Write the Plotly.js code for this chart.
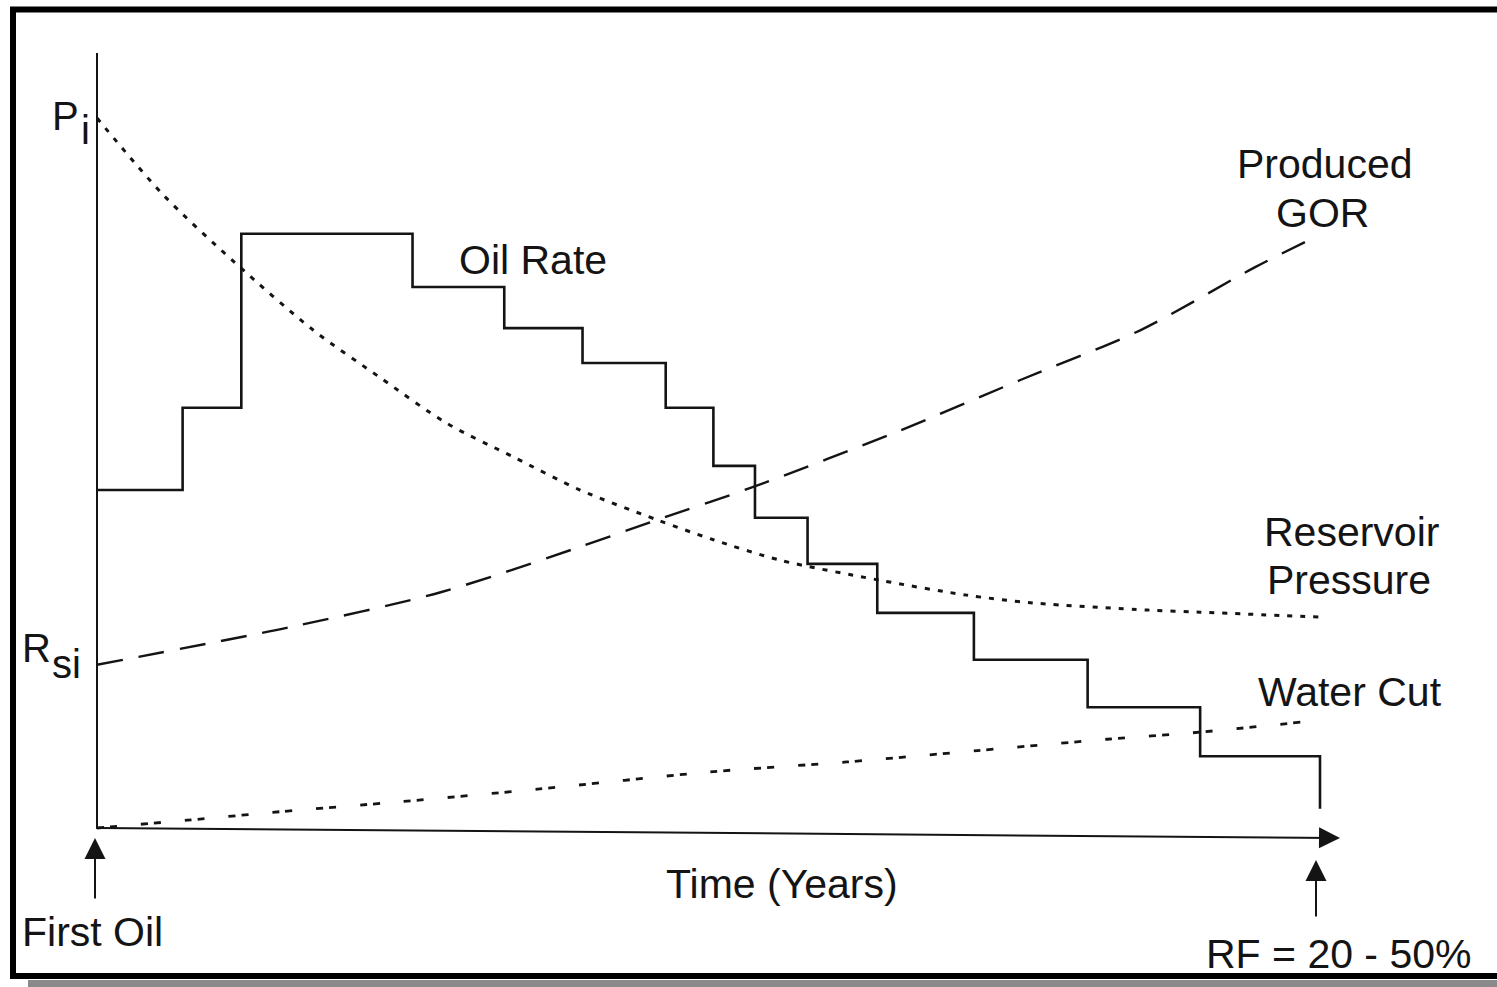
<!DOCTYPE html>
<html>
<head>
<meta charset="utf-8">
<script src="https://cdn.plot.ly/plotly-3.0.1.min.js"></script>
<style>
  html, body { margin: 0; padding: 0; background: #ffffff; }
  #chart { width: 1497px; height: 987px; }
</style>
</head>
<body>
<div id="chart"></div>
<script>
// ---- Data (time in arbitrary years 0..10, values in relative units 0..100) ----
const oilRateTime  = [0, 0.70, 1.18, 2.58, 3.33, 3.97, 4.65, 5.04, 5.38, 5.81, 6.38, 7.17, 8.10, 9.02, 10.0];
const oilRateValue = [47.6, 59.2, 83.7, 76.2, 70.4, 65.5, 59.2, 51.0, 43.7, 37.2, 30.3, 23.7, 17.0, 10.1, 2.7];

const pressureTime  = [0, 0.54, 1.13, 1.77, 2.31, 2.86, 3.40, 3.95, 4.58, 5.04, 5.59, 6.40, 7.11, 7.65, 8.59, 9.02, 10.0];
const pressureValue = [100.0, 89.2, 79.6, 70.1, 63.5, 57.0, 52.3, 47.6, 43.4, 40.6, 37.7, 34.9, 32.8, 31.7, 30.7, 30.4, 29.7];

const gorTime  = [0, 1.58, 2.81, 3.95, 4.58, 5.36, 6.54, 7.55, 8.53, 9.47, 9.98];
const gorValue = [23.0, 28.3, 33.2, 39.6, 43.4, 48.0, 55.8, 63.1, 70.1, 79.0, 83.4];

const waterCutTime  = [0, 0.74, 1.50, 2.48, 3.62, 5.01, 6.13, 7.20, 8.26, 9.02, 9.84];
const waterCutValue = [0.0, 1.1, 2.3, 3.7, 5.5, 7.9, 9.3, 10.9, 12.5, 13.5, 14.9];

const seriesLabels = ["Oil Rate", "Reservoir Pressure", "Produced GOR", "Water Cut"];

// ---- Layout helpers (pixel -> paper) ----
const W = 1497, H = 987;
const px = x => x / W;
const py = y => 1 - y / H;
const ink = "#141414";
const font = "Liberation Sans, Arial, Helvetica, sans-serif";

// axis mapping: t=0 -> px 97, t=10 -> px 1320 ; v=0 -> py 828, v=100 -> py 118
const sx = (1320 - 97) / 10;
const sy = (828 - 118) / 100;
const xr = [-97 / sx, -97 / sx + W / sx];
const yr = [-(H - 828) / sy, 828 / sy];

const traces = [
  { x: oilRateTime, y: oilRateValue, name: seriesLabels[0], mode: "lines",
    line: { shape: "hv", color: ink, width: 2.6 } },
  { x: pressureTime, y: pressureValue, name: seriesLabels[1], mode: "lines",
    line: { shape: "spline", smoothing: 0.8, color: ink, width: 3, dash: "5px,8px" } },
  { x: gorTime, y: gorValue, name: seriesLabels[2], mode: "lines",
    line: { shape: "spline", smoothing: 0.8, color: ink, width: 2.4, dash: "26px,16px" } },
  { x: waterCutTime, y: waterCutValue, name: seriesLabels[3], mode: "lines",
    line: { shape: "spline", smoothing: 0.8, color: ink, width: 2.8, dash: "7px,6px,7px,24px" } }
];

function txt(t, x, y, size, anchor) {
  return { text: t, x: px(x), y: py(y), xref: "paper", yref: "paper", showarrow: false,
           xanchor: anchor || "center", yanchor: "middle",
           font: { family: font, size: size || 41, color: ink } };
}
function arrow(x, y, ax, ay) {
  return { text: "", x: px(x), y: py(y), xref: "paper", yref: "paper", showarrow: true,
           ax: ax, ay: ay, arrowhead: 2, arrowsize: 2.1, arrowwidth: 2, arrowcolor: ink };
}

const annotations = [
  txt("Oil Rate", 533, 260),
  txt("Produced", 1325, 164),
  txt("GOR", 1322, 213),
  txt("Reservoir", 1351, 532),
  txt("Pressure", 1349, 580),
  txt("Water Cut", 1350, 692),
  txt("Time (Years)", 782, 884),
  txt("First Oil", 92, 932),
  txt("RF = 20 - 50%", 1338, 954),
  txt("P", 65, 116, 40),
  txt("i", 85, 130, 40),
  txt("R", 36, 648, 40),
  txt("si", 66, 664, 40),
  arrow(95, 838, 0, 62),
  arrow(1316, 860, 0, 58),
  arrow(1340, 838, -1243, -10)
];

const shapes = [
  // y axis
  { type: "line", xref: "paper", yref: "paper", x0: px(97), x1: px(97), y0: py(53), y1: py(829),
    line: { color: ink, width: 2 } },
  // frame
  { type: "rect", xref: "paper", yref: "paper", x0: px(13), x1: px(1510), y0: py(9.5), y1: py(976),
    line: { color: "#000000", width: 6 }, fillcolor: "rgba(0,0,0,0)" },
  // shadow
  { type: "rect", xref: "paper", yref: "paper", x0: px(28), x1: px(1500), y0: py(980), y1: py(990),
    line: { width: 0 }, fillcolor: "#8a8a8a" }
];

const layout = {
  width: W, height: H,
  margin: { l: 0, r: 0, t: 0, b: 0 },
  paper_bgcolor: "#ffffff", plot_bgcolor: "rgba(0,0,0,0)",
  showlegend: false,
  xaxis: { range: xr, visible: false, fixedrange: true },
  yaxis: { range: yr, visible: false, fixedrange: true },
  annotations: annotations,
  shapes: shapes
};

Plotly.newPlot("chart", traces, layout, { staticPlot: true, displayModeBar: false });
</script>
</body>
</html>
